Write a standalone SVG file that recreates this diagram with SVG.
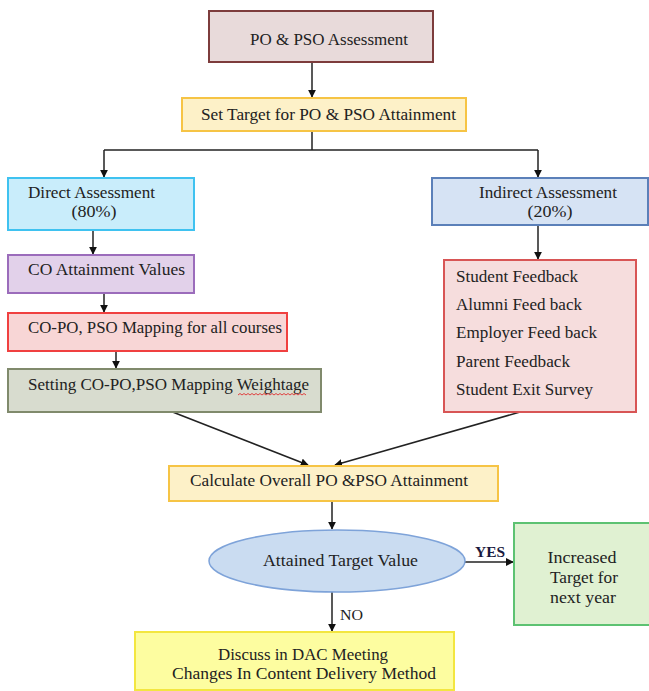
<svg xmlns="http://www.w3.org/2000/svg" width="649" height="691" viewBox="0 0 649 691">
  <defs>
    <marker id="arr" viewBox="0 0 10 10" refX="9" refY="5" markerWidth="8" markerHeight="8" markerUnits="userSpaceOnUse" orient="auto">
      <path d="M0,0 L10,5 L0,10 z" fill="#111"/>
    </marker>
  </defs>
  <style>
    text { font-family: "Liberation Serif", "Times New Roman", serif; font-size: 16.5px; fill: #222; }
    .box { stroke-width: 2; }
    .conn { stroke: #222; stroke-width: 1.5; fill: none; marker-end: url(#arr); }
    .plain { stroke: #222; stroke-width: 1.5; fill: none; }
    .mid { text-anchor: middle; }
    .lbl { font-size: 15px; font-weight: bold; fill: #1a1a40; }
  </style>

  <rect width="649" height="691" fill="#ffffff"/>

  <!-- connectors -->
  <g id="connectors">
    <line class="conn" x1="312" y1="62" x2="312" y2="97"/>
    <polyline class="plain" points="312,131 312,150"/>
    <polyline class="plain" points="104,150 538,150"/>
    <line class="conn" x1="104" y1="150" x2="104" y2="177"/>
    <line class="conn" x1="538" y1="150" x2="538" y2="177"/>
    <line class="conn" x1="93" y1="230" x2="93" y2="254"/>
    <line class="conn" x1="104" y1="293" x2="104" y2="312"/>
    <line class="conn" x1="116" y1="351" x2="116" y2="368"/>
    <line class="conn" x1="538" y1="225" x2="538" y2="259"/>
    <line class="conn" x1="170" y1="411" x2="308" y2="465"/>
    <line class="conn" x1="520" y1="412" x2="335" y2="465"/>
    <line class="conn" x1="332" y1="501" x2="332" y2="529"/>
    <line class="conn" x1="465" y1="562" x2="513" y2="562"/>
    <line class="conn" x1="332" y1="592" x2="332" y2="631"/>
    <text x="475" y="557" class="lbl" textLength="30" lengthAdjust="spacingAndGlyphs">YES</text>
    <text x="340" y="620" style="font-size:15px" textLength="23" lengthAdjust="spacingAndGlyphs">NO</text>
  </g>

  <g id="po-pso-assessment">
    <rect class="box" x="209" y="11" width="224" height="51" fill="#e8dada" stroke="#7d3c3c"/>
    <text x="250" y="45" textLength="158" lengthAdjust="spacingAndGlyphs">PO &amp; PSO Assessment</text>
  </g>

  <g id="set-target">
    <rect class="box" x="182" y="98" width="284" height="33" fill="#fdf1c8" stroke="#f6c445"/>
    <text x="201" y="120" textLength="255" lengthAdjust="spacingAndGlyphs">Set Target for PO &amp; PSO Attainment</text>
  </g>

  <g id="direct-assessment">
    <rect class="box" x="8" y="178" width="186" height="52" fill="#c9edfb" stroke="#3fc2f0"/>
    <text x="28" y="198" textLength="127" lengthAdjust="spacingAndGlyphs">Direct Assessment</text>
    <text x="94" y="217" class="mid" textLength="45" lengthAdjust="spacingAndGlyphs">(80%)</text>
  </g>

  <g id="co-attainment">
    <rect class="box" x="8" y="255" width="186" height="38" fill="#e2d1ea" stroke="#9b6cbb"/>
    <text x="28" y="275" textLength="157" lengthAdjust="spacingAndGlyphs">CO Attainment Values</text>
  </g>

  <g id="co-po-mapping">
    <rect class="box" x="8" y="313" width="279" height="38" fill="#f8d6d6" stroke="#f04040"/>
    <text x="28" y="333" textLength="254" lengthAdjust="spacingAndGlyphs">CO-PO, PSO Mapping for all courses</text>
  </g>

  <g id="mapping-weightage">
    <rect class="box" x="8" y="369" width="313" height="43" fill="#d8dccf" stroke="#808a6c"/>
    <text x="28" y="390" textLength="281" lengthAdjust="spacingAndGlyphs">Setting CO-PO,PSO Mapping Weightage</text>
    <path d="M238,395 l2,-1.5 l2,1.5 l2,-1.5 l2,1.5 l2,-1.5 l2,1.5 l2,-1.5 l2,1.5 l2,-1.5 l2,1.5 l2,-1.5 l2,1.5 l2,-1.5 l2,1.5 l2,-1.5 l2,1.5 l2,-1.5 l2,1.5 l2,-1.5 l2,1.5 l2,-1.5 l2,1.5 l2,-1.5 l2,1.5 l2,-1.5 l2,1.5 l2,-1.5 l2,1.5 l2,-1.5 l2,1.5 l2,-1.5 l2,1.5 l2,-1.5 l2,1.5" fill="none" stroke="#e03030" stroke-width="0.9"/>
  </g>

  <g id="indirect-assessment">
    <rect class="box" x="432" y="178" width="216" height="47" fill="#d6e3f4" stroke="#5b80b9"/>
    <text x="479" y="198" textLength="138" lengthAdjust="spacingAndGlyphs">Indirect Assessment</text>
    <text x="550" y="217" class="mid" textLength="45" lengthAdjust="spacingAndGlyphs">(20%)</text>
  </g>

  <g id="feedback">
    <rect class="box" x="444" y="260" width="192" height="152" fill="#f6dddd" stroke="#d85555"/>
    <text x="456" y="282" textLength="122" lengthAdjust="spacingAndGlyphs">Student Feedback</text>
    <text x="456" y="310" textLength="126" lengthAdjust="spacingAndGlyphs">Alumni Feed back</text>
    <text x="456" y="338" textLength="141" lengthAdjust="spacingAndGlyphs">Employer Feed back</text>
    <text x="456" y="367" textLength="114" lengthAdjust="spacingAndGlyphs">Parent Feedback</text>
    <text x="456" y="395" textLength="137" lengthAdjust="spacingAndGlyphs">Student Exit Survey</text>
  </g>

  <g id="calculate-overall">
    <rect class="box" x="169" y="466" width="329" height="35" fill="#fdf1c8" stroke="#f6c445"/>
    <text x="190" y="486" textLength="278" lengthAdjust="spacingAndGlyphs">Calculate Overall PO &amp;PSO Attainment</text>
  </g>

  <g id="attained-target">
    <ellipse cx="337" cy="561" rx="128" ry="31" fill="#cadcf1" stroke="#7ea3d9" stroke-width="1.5"/>
    <text x="263" y="566" textLength="155" lengthAdjust="spacingAndGlyphs">Attained Target Value</text>
  </g>

  <g id="increased-target">
    <rect class="box" x="514" y="523" width="136" height="102" fill="#e0f1d2" stroke="#5dc272"/>
    <text x="582" y="563" class="mid" textLength="69" lengthAdjust="spacingAndGlyphs">Increased</text>
    <text x="584" y="583" class="mid" textLength="68" lengthAdjust="spacingAndGlyphs">Target for</text>
    <text x="583" y="603" class="mid" textLength="66" lengthAdjust="spacingAndGlyphs">next year</text>
  </g>

  <g id="dac-meeting">
    <rect class="box" x="135" y="632" width="319" height="58" fill="#fdfda0" stroke="#f3e640"/>
    <text x="303" y="660" class="mid" textLength="170" lengthAdjust="spacingAndGlyphs">Discuss in DAC Meeting</text>
    <text x="304" y="679" class="mid" textLength="264" lengthAdjust="spacingAndGlyphs">Changes In Content Delivery Method</text>
  </g>
</svg>
